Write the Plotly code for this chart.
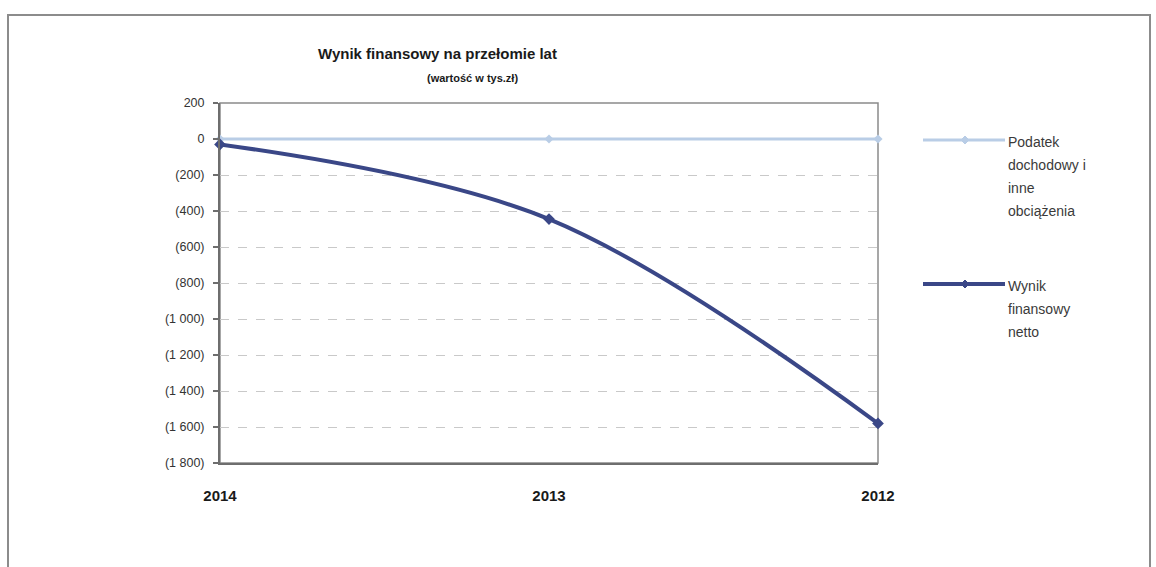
import plotly.graph_objects as go

# Years shown on the category axis (newest first, as in the report)
years = ["2014", "2013", "2012"]

# Values in thousands of PLN
podatek = [0, 0, 0]                 # Podatek dochodowy i inne obciążenia
wynik_netto = [-30, -445, -1580]    # Wynik finansowy netto

# Y axis ticks with accounting-style labels
y_ticks = [200, 0, -200, -400, -600, -800, -1000, -1200, -1400, -1600, -1800]
y_tick_labels = ["200", "0", "(200)", "(400)", "(600)", "(800)", "(1 000)",
                 "(1 200)", "(1 400)", "(1 600)", "(1 800)"]

# legend labels, one list entry per text line
legend_lines = [["Podatek", "dochodowy i", "inne", "obciążenia"],
                ["Wynik", "finansowy", "netto"]]

light_blue = "#b9cde6"
navy = "#3a4787"
font_family = "Liberation Sans, Arial, sans-serif"

fig = go.Figure()

fig.add_trace(go.Scatter(
    x=years, y=podatek, mode="lines+markers",
    line=dict(color=light_blue, width=3, shape="spline"),
    marker=dict(symbol="diamond", size=7, color=light_blue),
    cliponaxis=False, showlegend=False,
))
fig.add_trace(go.Scatter(
    x=years, y=wynik_netto, mode="lines+markers",
    line=dict(color=navy, width=4, shape="spline", smoothing=1),
    marker=dict(symbol="diamond", size=9, color=navy),
    cliponaxis=False, showlegend=False,
))

W, H = 1156, 567
L, R, T, B = 220, 278, 103, 104
pw, ph = W - L - R, H - T - B


def px_x(x):
    return (x - L) / pw


def px_y(y):
    return (H - B - y) / ph


shapes = [
    # outer frame of the chart object
    dict(type="rect", xref="paper", yref="paper",
         x0=px_x(8), x1=px_x(1150), y0=px_y(600), y1=px_y(15),
         line=dict(color="#8c8c8c", width=2), layer="below"),
    # plot area border
    dict(type="rect", xref="paper", yref="paper", x0=0, x1=1, y0=0, y1=1,
         line=dict(color="#8a8a8a", width=1.5), layer="below"),
]

annotations = [
    dict(text="<b>Wynik finansowy na przełomie lat</b>", xref="paper", yref="paper",
         x=px_x(437), y=px_y(53), xanchor="center", yanchor="middle", showarrow=False,
         font=dict(size=15, color="#1a1a1a", family=font_family)),
    dict(text="<b>(wartość w tys.zł)</b>", xref="paper", yref="paper",
         x=px_x(472), y=px_y(78), xanchor="center", yanchor="middle", showarrow=False,
         font=dict(size=11, color="#1a1a1a", family=font_family)),
]

# legend drawn beside the plot area
legend_rows = [(140, light_blue, 3, legend_lines[0]), (284, navy, 4, legend_lines[1])]
for y_line, color, width, lines in legend_rows:
    shapes.append(dict(type="line", xref="paper", yref="paper",
                       x0=px_x(923), x1=px_x(1005), y0=px_y(y_line), y1=px_y(y_line),
                       line=dict(color=color, width=width)))
    cx, cy = 965, y_line
    shapes.append(dict(type="path", xref="paper", yref="paper",
                       path=f"M {px_x(cx - 4)} {px_y(cy)} L {px_x(cx)} {px_y(cy - 4)} "
                            f"L {px_x(cx + 4)} {px_y(cy)} L {px_x(cx)} {px_y(cy + 4)} Z",
                       fillcolor=color, line=dict(color=color, width=1)))
    for i, text in enumerate(lines):
        annotations.append(dict(text=text, xref="paper", yref="paper",
                                x=px_x(1006), y=px_y(y_line + 2 + 23 * i),
                                xanchor="left", yanchor="middle",
                                align="left", showarrow=False,
                                font=dict(size=14, color="#3a3a3a", family=font_family)))

fig.update_layout(
    width=W, height=H,
    margin=dict(l=L, r=R, t=T, b=B),
    paper_bgcolor="white", plot_bgcolor="white",
    font=dict(family=font_family, color="#333333"),
    shapes=shapes, annotations=annotations,
    xaxis=dict(
        type="category", range=[0, 2], showgrid=False, zeroline=False,
        showline=True, linecolor="#6e6e6e", linewidth=2,
        ticks="", ticklabelstandoff=18,
        tickfont=dict(size=15, color="#1a1a1a", family="Liberation Sans, Arial"),
        tickprefix="<b>", ticksuffix="</b>",
    ),
    yaxis=dict(
        range=[-1800, 200], tickvals=y_ticks, ticktext=y_tick_labels,
        showline=True, linecolor="#6e6e6e", linewidth=2,
        ticks="outside", ticklen=5, tickcolor="#6e6e6e", tickwidth=1.5,
        ticklabelstandoff=6,
        showgrid=True, gridcolor="#c9c9c9", gridwidth=1, griddash="dash",
        zeroline=False,
        tickfont=dict(size=12.5, color="#333333"),
    ),
)

fig.write_html("out.html")
